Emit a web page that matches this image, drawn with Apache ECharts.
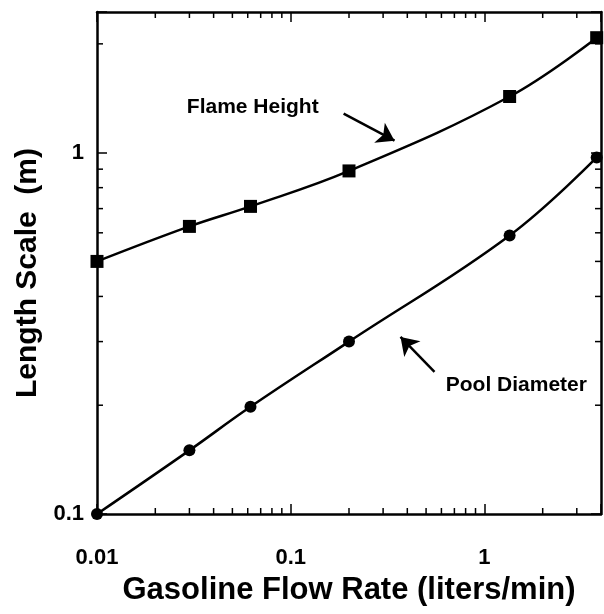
<!DOCTYPE html>
<html>
<head>
<meta charset="utf-8">
<script src="https://cdn.jsdelivr.net/npm/echarts@6/dist/echarts.min.js"></script>
<style>
  html, body { margin: 0; padding: 0; background: #fff; }
  #main { width: 604px; height: 614px; }
</style>
</head>
<body>
<div id="main"></div>
<script>
// flow rate (liters/min)
var flowRate = [0.01, 0.03, 0.062, 0.2, 1.35, 3.8];
// length scale (m)
var flameHeight = [0.5, 0.625, 0.71, 0.89, 1.43, 2.08];
var poolDiameter = [0.1, 0.15, 0.198, 0.3, 0.59, 0.97];

var X_MIN = 0.01, X_MAX = 4;
var Y_MIN = 0.1, Y_MAX = 2.45;
var xMinor = [0.02, 0.03, 0.04, 0.05, 0.06, 0.07, 0.08, 0.09,
              0.2, 0.3, 0.4, 0.5, 0.6, 0.7, 0.8, 0.9, 2, 3];
var yMinor = [0.2, 0.3, 0.4, 0.5, 0.6, 0.7, 0.8, 0.9, 2];

// annotations, in data coordinates
var flameLabel = { text: 'Flame Height', at: [0.0637, 1.333] };
var flameArrow = [[0.1876, 1.282], [0.3436, 1.079]];
var poolLabel = { text: 'Pool Diameter', at: [1.462, 0.2277] };
var poolArrow = [[0.5525, 0.2474], [0.369, 0.309]];

var FONT = "'Liberation Sans', Arial, Helvetica, sans-serif";

function pairs(xs, ys) {
  return xs.map(function (x, i) { return [x, ys[i]]; });
}

function decadeLabel(v) {
  var l = Math.log(v) / Math.LN10;
  if (Math.abs(l - Math.round(l)) > 1e-6) return '';
  return String(+Math.pow(10, Math.round(l)).toPrecision(1));
}

function tickLine(x1, y1, x2, y2) {
  return { type: 'line', shape: { x1: x1, y1: y1, x2: x2, y2: y2 },
           style: { stroke: '#000', lineWidth: 1.5 } };
}

var myChart = echarts.init(document.getElementById('main'));

var baseAxis = {
  type: 'log',
  logBase: 10,
  splitLine: { show: false },
  axisLine: { show: true, onZero: false, lineStyle: { color: '#000', width: 2.5 } },
  axisTick: { show: true, inside: true, length: 10, lineStyle: { color: '#000', width: 1.5 } },
  minorTick: { show: false }
};

var labelStyle = { show: true, position: 'inside', fontFamily: FONT, fontWeight: 'bold', fontSize: 21, color: '#000' };
var arrowStyle = {
  silent: true,
  symbol: ['none', 'arrow'],
  symbolSize: 17,
  label: { show: false },
  lineStyle: { type: 'solid', color: '#000', width: 2.5 }
};

var option = {
  animation: false,
  backgroundColor: '#fff',
  grid: { left: 97, right: 2, top: 12, bottom: 100 },
  xAxis: [
    echarts.util.merge({
      min: X_MIN, max: X_MAX, position: 'bottom',
      name: 'Gasoline Flow Rate (liters/min)',
      nameLocation: 'middle', nameGap: 61,
      nameTextStyle: { fontFamily: FONT, fontWeight: 'bold', fontSize: 31, color: '#000' },
      axisLabel: { formatter: decadeLabel, margin: 33, fontFamily: FONT, fontWeight: 'bold', fontSize: 22, color: '#000' }
    }, baseAxis, false),
    echarts.util.merge({
      min: X_MIN, max: X_MAX, position: 'top', axisLabel: { show: false }
    }, baseAxis, false)
  ],
  yAxis: [
    echarts.util.merge({
      min: Y_MIN, max: Y_MAX, position: 'left',
      name: 'Length Scale  (m)',
      nameLocation: 'middle', nameGap: 51,
      nameTextStyle: { fontFamily: FONT, fontWeight: 'bold', fontSize: 30, color: '#000', padding: [0, 20, 0, 0] },
      axisLabel: { formatter: decadeLabel, margin: 13, fontFamily: FONT, fontWeight: 'bold', fontSize: 22, color: '#000' }
    }, baseAxis, false),
    echarts.util.merge({
      min: Y_MIN, max: Y_MAX, position: 'right', axisLabel: { show: false }
    }, baseAxis, false)
  ],
  series: [
    {
      name: 'Flame Height',
      type: 'line',
      smooth: 0.4,
      symbol: 'rect',
      symbolSize: 13,
      data: pairs(flowRate, flameHeight),
      itemStyle: { color: '#000' },
      lineStyle: { color: '#000', width: 2.5 },
      markPoint: {
        symbolSize: 0,
        label: echarts.util.merge({ formatter: flameLabel.text }, labelStyle, false),
        data: [{ coord: flameLabel.at }]
      },
      markLine: echarts.util.merge({
        data: [[{ coord: flameArrow[0] }, { coord: flameArrow[1] }]]
      }, arrowStyle, false)
    },
    {
      name: 'Pool Diameter',
      type: 'line',
      smooth: 0.4,
      symbol: 'circle',
      symbolSize: 12,
      data: pairs(flowRate, poolDiameter),
      itemStyle: { color: '#000' },
      lineStyle: { color: '#000', width: 2.5 },
      markPoint: {
        symbolSize: 0,
        label: echarts.util.merge({ formatter: poolLabel.text }, labelStyle, false),
        data: [{ coord: poolLabel.at }]
      },
      markLine: echarts.util.merge({
        data: [[{ coord: poolArrow[0] }, { coord: poolArrow[1] }]]
      }, arrowStyle, false)
    },
    {
      // minor ticks on bottom and top axes
      type: 'custom',
      silent: true,
      clip: false,
      data: xMinor.map(function (v) { return [v, Y_MIN]; }),
      renderItem: function (params, api) {
        var b = api.coord([api.value(0), Y_MIN]);
        var t = api.coord([api.value(0), Y_MAX]);
        return { type: 'group', children: [
          tickLine(b[0], b[1], b[0], b[1] - 6),
          tickLine(t[0], t[1], t[0], t[1] + 6)
        ] };
      }
    },
    {
      // minor ticks on left and right axes
      type: 'custom',
      silent: true,
      clip: false,
      data: yMinor.map(function (v) { return [X_MIN, v]; }),
      renderItem: function (params, api) {
        var l = api.coord([X_MIN, api.value(1)]);
        var r = api.coord([X_MAX, api.value(1)]);
        return { type: 'group', children: [
          tickLine(l[0], l[1], l[0] + 6, l[1]),
          tickLine(r[0], r[1], r[0] - 6, r[1])
        ] };
      }
    }
  ]
};
myChart.setOption(option);
</script>
</body>
</html>
